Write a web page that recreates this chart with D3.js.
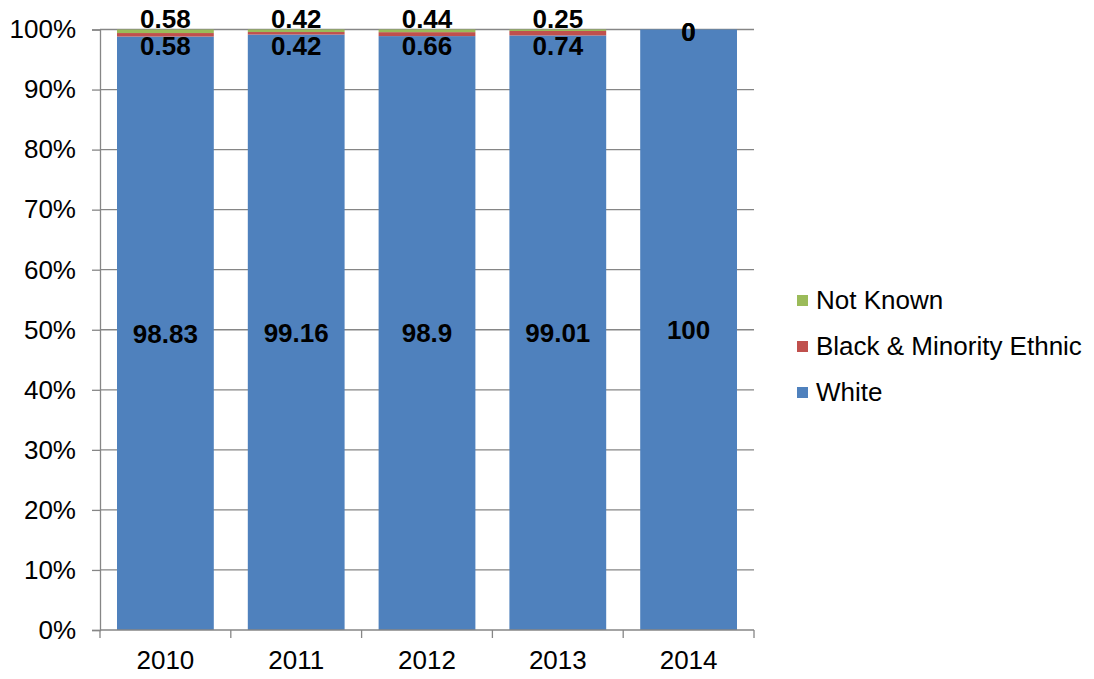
<!DOCTYPE html>
<html><head><meta charset="utf-8">
<script src="https://cdn.jsdelivr.net/npm/d3@7"></script>
<style>body{margin:0;background:#fff;}svg{font-family:"Liberation Sans",Arial,sans-serif;}</style>
</head><body>
<svg id="c" width="1094" height="679"></svg>
<script>
const years = ["2010","2011","2012","2013","2014"];
const white = [98.83, 99.16, 98.9, 99.01, 100];
const bme = [0.58, 0.42, 0.66, 0.74, 0];
const notKnown = [0.58, 0.42, 0.44, 0.25, 0];
const seriesNames = ["White","Black & Minority Ethnic","Not Known"];
const colors = ["#4F81BD","#C0504D","#9BBB59"];
const yTicks = [0,10,20,30,40,50,60,70,80,90,100];

const svg = d3.select("#c");
const x0 = 100, x1 = 754, yTop = 29.5, yBot = 630;
const x = d3.scaleBand().domain(years).range([x0, x1]).paddingInner(0.26).paddingOuter(0.13);
const y = d3.scaleLinear().domain([0,100]).range([yBot, yTop]);

const rows = years.map((yr,i)=>({year:yr, White:white[i], "Black & Minority Ethnic":bme[i], "Not Known":notKnown[i]}));
const stack = d3.stack().keys(seriesNames)(rows);

// gridlines
svg.append("g").selectAll("line").data(yTicks.filter(t=>t>0)).join("line")
  .attr("x1", x0).attr("x2", x1).attr("y1", d=>y(d)).attr("y2", d=>y(d))
  .attr("stroke","#868686").attr("stroke-width",1.3);

// bars
svg.append("g").selectAll("g").data(stack).join("g").attr("fill",(d,i)=>colors[i])
  .selectAll("rect").data(d=>d).join("rect")
  .attr("x", d=>x(d.data.year)).attr("width", x.bandwidth())
  .attr("y", d=>y(d[1])).attr("height", d=>Math.max(0, y(d[0])-y(d[1])));

// axes
const yAxis = svg.append("g").attr("transform",`translate(${x0},0)`)
  .call(d3.axisLeft(y).tickValues(yTicks).tickFormat(d=>d+"%").tickSize(8).tickPadding(16));
const xAxis = svg.append("g").attr("transform",`translate(0,${yBot})`)
  .call(d3.axisBottom(x).tickSize(0).tickPadding(21));
// category boundary ticks
const bounds = years.map(yr=>x(yr)-x.step()*x.paddingInner()/2).concat([x1]);
bounds[0] = x0;
svg.append("g").selectAll("line").data(bounds).join("line")
  .attr("x1",d=>d).attr("x2",d=>d).attr("y1",yBot).attr("y2",yBot+8)
  .attr("stroke","#868686").attr("stroke-width",1.3);
[yAxis,xAxis].forEach(a=>{
  a.select(".domain").attr("stroke","#868686").attr("stroke-width",1.3);
  a.selectAll(".tick line").attr("stroke","#868686").attr("stroke-width",1.3);
  a.selectAll("text").attr("font-size",26).attr("fill","#000").attr("font-family","Liberation Sans, Arial, sans-serif");
});
xAxis.select(".domain").attr("d",`M${x0},0H${x1}`);

// data labels
const lab = svg.append("g").attr("font-weight","bold").attr("font-size",26).attr("text-anchor","middle").attr("fill","#000");
rows.forEach((r,i)=>{
  const cx = x(r.year)+x.bandwidth()/2;
  lab.append("text").attr("x",cx).attr("y",y(r.White/2)).attr("dy","0.36em").text(r.White);
  const both0 = bme[i]===0 && notKnown[i]===0;
  lab.append("text").attr("x",cx).attr("y", both0 ? y(100)+2.5 : y(100)+16.5).attr("dy","0.36em").text(bme[i]);
  lab.append("text").attr("x",cx).attr("y", both0 ? y(100)+2.5 : y(100)-10.5).attr("dy","0.36em").text(notKnown[i]);
});

// legend
const legendOrder = [2,1,0];
const lg = svg.append("g");
legendOrder.forEach((si,k)=>{
  const ly = 300 + k*46;
  lg.append("rect").attr("x",797).attr("y",ly-5).attr("width",11).attr("height",11).attr("fill",colors[si]);
  lg.append("text").attr("x",816).attr("y",ly).attr("dy","0.36em").attr("font-size",26).attr("fill","#000").text(seriesNames[si]);
});
</script>
</body></html>
